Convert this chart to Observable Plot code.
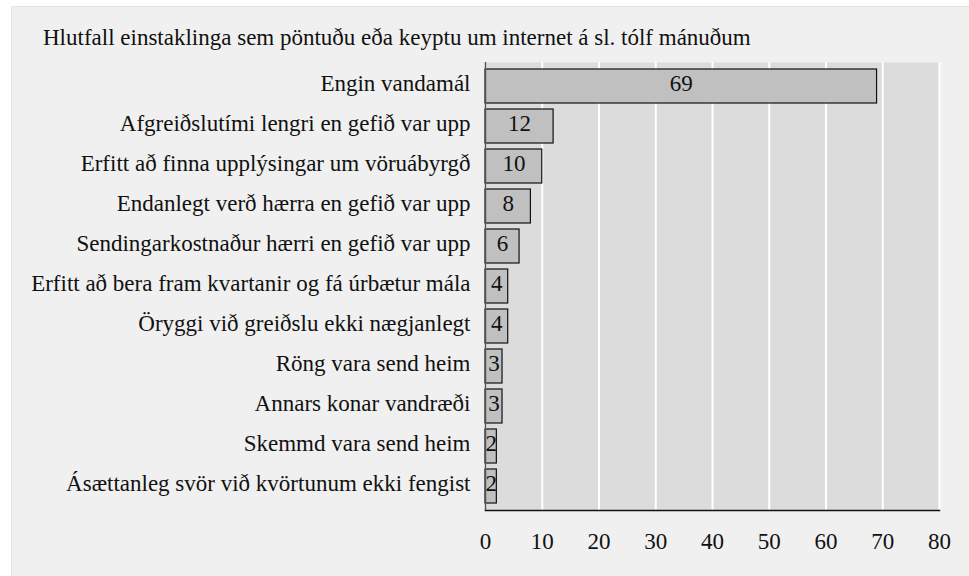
<!DOCTYPE html>
<html>
<head>
<meta charset="utf-8">
<script src="https://cdn.jsdelivr.net/npm/d3@7"></script>
<script src="https://cdn.jsdelivr.net/npm/@observablehq/plot@0.6"></script>
<style>
  html, body { margin: 0; padding: 0; background: #ffffff; }
  #wrap { position: relative; width: 969px; height: 576px; overflow: hidden; }
  #panel { position: absolute; left: 11px; top: 6px; right: 0; bottom: 0; background: #f0f0f0; border-left: 1px solid #e4e4e4; border-top: 1px solid #e4e4e4; }
  #title { position: absolute; left: 43px; top: 26px; font-family: 'Liberation Serif', serif; font-size: 23px; line-height: 23px; color: #111; white-space: nowrap; }
  #chart { position: absolute; left: 0; top: 0; }
  #chart svg { background: transparent; }
</style>
</head>
<body>
<div id="wrap">
  <div id="panel"></div>
  <div id="title"></div>
  <div id="chart"></div>
</div>
<script>
const titleText = "Hlutfall einstaklinga sem pöntuðu eða keyptu um internet á sl. tólf mánuðum";
const categories = [
  "Engin vandamál",
  "Afgreiðslutími lengri en gefið var upp",
  "Erfitt að finna upplýsingar um vöruábyrgð",
  "Endanlegt verð hærra en gefið var upp",
  "Sendingarkostnaður hærri en gefið var upp",
  "Erfitt að bera fram kvartanir og fá úrbætur mála",
  "Öryggi við greiðslu ekki nægjanlegt",
  "Röng vara send heim",
  "Annars konar vandræði",
  "Skemmd vara send heim",
  "Ásættanleg svör við kvörtunum ekki fengist"
];
const values = [69, 12, 10, 8, 6, 4, 4, 3, 3, 2, 2];
const xTicks = [0, 10, 20, 30, 40, 50, 60, 70, 80];

document.getElementById("title").textContent = titleText;

const data = categories.map((c, i) => ({label: c, value: values[i]}));

const chart = Plot.plot({
  width: 969,
  height: 576,
  marginLeft: 485,
  marginRight: 30,
  marginTop: 62,
  marginBottom: 66,
  style: {fontFamily: "'Liberation Serif', serif", fontSize: "23px", color: "#111", background: "transparent", overflow: "visible"},
  x: {domain: [0, 80], ticks: xTicks, label: null},
  y: {domain: categories, paddingInner: 0.15, paddingOuter: 0.06, label: null},
  marks: [
    Plot.frame({fill: "#dcdcdc", stroke: null}),
    Plot.gridX(xTicks, {stroke: "white", strokeOpacity: 1, strokeWidth: 2}),
    Plot.barX(data, {x: "value", y: "label", fill: "#c0c0c0", stroke: "#111", strokeWidth: 1.2}),
    Plot.text(data, {x: d => d.value / 2, y: "label", text: d => String(d.value), fill: "#111", fontSize: 23, dy: -2.5}),
    Plot.ruleX([0], {stroke: "#555", strokeWidth: 1.5}),
    Plot.frame({anchor: "bottom", stroke: "#111", strokeWidth: 1.5}),
    Plot.axisY({tickSize: 0, tickPadding: 15, fontSize: 23, dy: -3, label: null}),
    Plot.axisX({ticks: xTicks, tickSize: 0, tickPadding: 22, fontSize: 23, label: null})
  ]
});
document.getElementById("chart").appendChild(chart);
</script>
</body>
</html>
